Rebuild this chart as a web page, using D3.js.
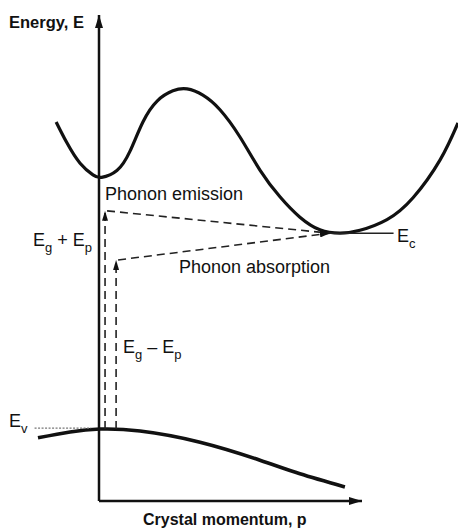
<!DOCTYPE html>
<html>
<head>
<meta charset="utf-8">
<script src="https://cdn.jsdelivr.net/npm/d3@7"></script>
<style>
  body { margin: 0; background: #fff; }
  svg { display: block; font-family: "Liberation Sans", Arial, sans-serif; }
</style>
</head>
<body>
<svg width="458" height="528"></svg>
<script>
const svg = d3.select("svg");

// DATA (momentum p, energy E in arbitrary units)
const conductionP = [-1.63, -1.22, -0.72, -0.23, 0.1, 0.68, 1.18, 1.67, 2.21, 2.81, 3.35, 3.95, 4.6, 5.36, 6.12, 6.88, 7.64, 8.4, 9.16, 9.92, 10.95, 11.94, 12.97, 13.65];
const conductionE = [7.8, 7.37, 6.95, 6.71, 6.66, 6.8, 7.2, 7.8, 8.23, 8.44, 8.48, 8.35, 8.05, 7.49, 6.81, 6.26, 5.84, 5.58, 5.51, 5.57, 5.79, 6.24, 7.02, 7.78];
const valenceP = [-2.32, -1.1, 0.04, 1.56, 3.84, 6.12, 7.64, 9.35];
const valenceE = [1.3, 1.42, 1.48, 1.44, 1.21, 0.84, 0.56, 0.29];

const Ev = 1.48;
const Ec = 5.51;
const EcLineP = [8.7, 11.2];
const EvLineP = [-2.45, -0.3];

// phonon assisted transitions: photon up at pStart, then phonon to the Ec minimum
const transitionNames = ["emission", "absorption"];
const transitionP = [0.23, 0.65];
const transitionTopE = [5.97, 4.96];
const targetP = 8.78;

// CONSTANTS
const origin = { x: 99, y: 501 };

// SCALES
const xScale = d3.scaleLinear().domain([0, 10]).range([origin.x, 362]);
const yScale = d3.scaleLinear().domain([0, 10]).range([origin.y, 15]);

const conduction = conductionP.map((p, i) => ({ p, E: conductionE[i] }));
const valence = valenceP.map((p, i) => ({ p, E: valenceE[i] }));

const line = d3.line()
  .x(d => xScale(d.p))
  .y(d => yScale(d.E))
  .curve(d3.curveNatural);

// arrowhead markers
const defs = svg.append("defs");
function marker(id, w, l) {
  defs.append("marker")
    .attr("id", id)
    .attr("viewBox", `0 ${-w / 2} ${l} ${w}`)
    .attr("refX", l)
    .attr("refY", 0)
    .attr("markerWidth", l)
    .attr("markerHeight", w)
    .attr("markerUnits", "userSpaceOnUse")
    .attr("orient", "auto")
    .append("path")
    .attr("d", `M0,${-w / 2}L${l},0L0,${w / 2}Z`)
    .attr("fill", "#111");
}
marker("axisArrow", 8, 13);
marker("dashArrow", 6, 10);

// axes
svg.append("path")
  .attr("d", `M${xScale(0)},${yScale(0)}V${yScale(10)}`)
  .attr("stroke", "#111").attr("stroke-width", 2.5).attr("fill", "none")
  .attr("marker-end", "url(#axisArrow)");
svg.append("path")
  .attr("d", `M${xScale(0)},${yScale(0)}H${xScale(10)}`)
  .attr("stroke", "#111").attr("stroke-width", 2.5).attr("fill", "none")
  .attr("marker-end", "url(#axisArrow)");

// bands
svg.append("path")
  .datum(conduction)
  .attr("d", line)
  .attr("fill", "none").attr("stroke", "#111").attr("stroke-width", 3.2);
svg.append("path")
  .datum(valence)
  .attr("d", line)
  .attr("fill", "none").attr("stroke", "#111").attr("stroke-width", 3.6);

// Ec and Ev levels
svg.append("line")
  .attr("x1", xScale(EcLineP[0])).attr("x2", xScale(EcLineP[1]))
  .attr("y1", yScale(Ec)).attr("y2", yScale(Ec))
  .attr("stroke", "#222").attr("stroke-width", 1.5);
svg.append("line")
  .attr("x1", xScale(EvLineP[0])).attr("x2", xScale(EvLineP[1]))
  .attr("y1", yScale(Ev) - 1).attr("y2", yScale(Ev) - 1)
  .attr("stroke", "#777").attr("stroke-width", 1.2)
  .attr("stroke-dasharray", "2,1.5");

// transitions
const tg = svg.append("g")
  .attr("fill", "none").attr("stroke", "#222")
  .attr("stroke-width", 1.6).attr("stroke-dasharray", "8,5");

tg.selectAll(".up")
  .data(transitionNames)
  .enter()
  .append("line")
  .attr("class", "up")
  .attr("x1", (d, i) => xScale(transitionP[i]))
  .attr("x2", (d, i) => xScale(transitionP[i]))
  .attr("y1", yScale(Ev))
  .attr("y2", (d, i) => yScale(transitionTopE[i]))
  .attr("marker-end", "url(#dashArrow)");

tg.selectAll(".phonon")
  .data(transitionNames)
  .enter()
  .append("line")
  .attr("class", "phonon")
  .attr("x1", (d, i) => xScale(transitionP[i]) + 2)
  .attr("y1", (d, i) => yScale(transitionTopE[i]))
  .attr("x2", xScale(targetP))
  .attr("y2", yScale(Ec))
  .attr("marker-end", "url(#dashArrow)");

// TEXT
// parts: [main text, subscript]; each main text returns to the baseline
function subLabel(x, y, parts) {
  const t = svg.append("text")
    .attr("x", x).attr("y", y)
    .attr("font-size", 18).attr("fill", "#111");
  parts.forEach(([txt, sub], i) => {
    t.append("tspan").attr("dy", i > 0 ? -6 : 0).text(txt);
    t.append("tspan").attr("dy", 6).attr("font-size", 13).text(sub);
  });
  return t;
}

subLabel(33, 246, [["E", "g"], [" + E", "p"]]);
subLabel(123, 353, [["E", "g"], [" \u2013 E", "p"]]);
subLabel(397, 242, [["E", "c"]]);
subLabel(9, 427, [["E", "v"]]);

svg.append("text")
  .attr("x", 105).attr("y", 200)
  .attr("font-size", 18).attr("fill", "#111")
  .text("Phonon emission");
svg.append("text")
  .attr("x", 179).attr("y", 273)
  .attr("font-size", 18).attr("fill", "#111")
  .text("Phonon absorption");

svg.append("text")
  .attr("x", 9).attr("y", 28)
  .attr("font-size", 16.5).attr("font-weight", "bold").attr("fill", "#111")
  .text("Energy, E");
svg.append("text")
  .attr("x", 143).attr("y", 525)
  .attr("font-size", 16).attr("font-weight", "bold").attr("fill", "#111")
  .text("Crystal momentum, p");
</script>
</body>
</html>
